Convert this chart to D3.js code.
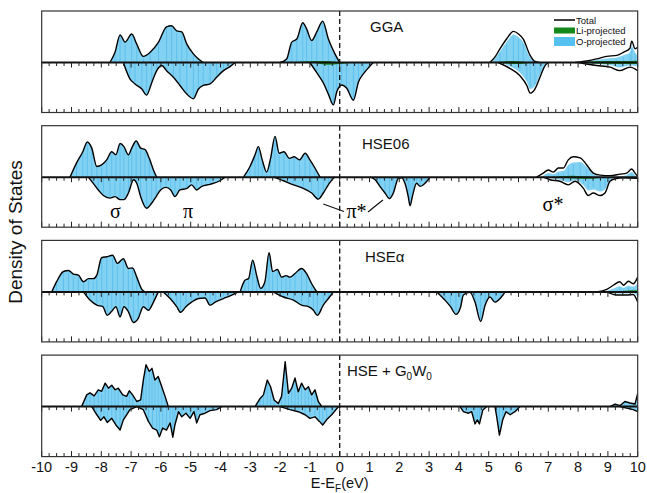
<!DOCTYPE html>
<html>
<head>
<meta charset="utf-8">
<script src="https://cdn.jsdelivr.net/npm/d3@7"></script>
<style>
  body { margin: 0; background: #fff; }
  svg { display: block; }
  text { font-family: "Liberation Sans", Arial, Helvetica, sans-serif; }
  .greek { font-family: "Liberation Serif", "Times New Roman", serif; }
</style>
</head>
<body>
<svg id="chart" width="647" height="493"></svg>
<script>
// Energies in eV relative to E_F; DOS in states/eV (spin up > 0, spin down < 0).
// Each series is a list of blocks; every block starts and ends on the zero line.

const energyTicks = d3.range(-10, 11, 1);
const panelLabels = ["GGA", "HSE06", "HSEα", "HSE + G0W0"];
const legendLabels = ["Total", "Li-projected", "O-projected"];
const bandLabels = ["σ", "π", "π*", "σ*"];

// ---------- GGA ----------
const ggaUp = [
  [[-7.71,0],[-7.54,1.0],[-7.37,2.7],[-7.2,2.0],[-6.98,2.8],[-6.81,1.8],[-6.59,0.6],[-6.36,1.0],[-6.08,2.0],[-5.81,3.5],[-5.64,3.6],[-5.47,3.1],[-5.3,3.0],[-5.13,1.8],[-4.91,0.85],[-4.74,0.35],[-4.58,0]],
  [[-2.0,0],[-1.78,0.35],[-1.61,2.0],[-1.44,2.3],[-1.24,3.9],[-1.11,3.3],[-0.94,2.15],[-0.77,3.0],[-0.57,4.05],[-0.38,2.3],[-0.16,0.85],[0.0,0]]
];
const ggaDown = [
  [[-7.26,0],[-7.04,-1.6],[-6.87,-2.1],[-6.64,-2.6],[-6.48,-3.2],[-6.31,-2.0],[-6.14,-0.8],[-5.97,-0.3],[-5.81,-0.8],[-5.58,-1.45],[-5.36,-2.25],[-5.13,-3.1],[-4.91,-3.55],[-4.74,-2.6],[-4.58,-2.25],[-4.35,-2.1],[-4.13,-1.45],[-3.9,-0.8],[-3.68,-0.4],[-3.51,0]],
  [[-1.0,0],[-0.77,-1.0],[-0.55,-2.0],[-0.38,-3.1],[-0.21,-4.15],[-0.1,-2.9],[0.07,-2.2],[0.23,-2.5],[0.46,-3.7],[0.63,-1.9],[0.8,-1.1],[1.0,-0.4],[1.13,0]]
];
// blocks where the O-projected DOS sits visibly below the total
const ggaTotalOnlyUp = [
  [[5.04,0],[5.2,0.5],[5.38,1.35],[5.6,2.3],[5.83,3.05],[6.0,2.8],[6.16,2.3],[6.39,0.7],[6.55,0.1],[6.7,0]],
  [[7.9,0],[8.07,0.05],[8.29,0.15],[8.62,0.35],[8.96,0.6],[9.3,0.7],[9.52,1.0],[9.74,1.4],[9.8,2.1],[9.91,1.35],[10,1.5]]
];
const ggaOUp = [
  [[5.1,0],[5.38,1.1],[5.6,2.0],[5.83,2.75],[6.0,2.5],[6.16,2.0],[6.39,0.5],[6.6,0]],
  [[8.07,0],[8.29,0.1],[8.62,0.25],[8.96,0.4],[9.3,0.5],[9.52,0.7],[9.74,1.0],[9.8,1.6],[9.91,1.0],[10,0.6]]
];
const ggaTotalOnlyDown = [
  [[5.32,0],[5.72,-0.6],[6.05,-1.3],[6.28,-2.25],[6.39,-3.0],[6.55,-2.6],[6.72,-1.45],[6.89,-0.3],[7.0,0]],
  [[8.0,0],[8.18,-0.1],[8.62,-0.3],[9.07,-0.45],[9.4,-0.8],[9.74,-0.45],[10,-0.8]]
];
const ggaODown = [
  [[5.4,0],[5.72,-0.4],[6.05,-1.0],[6.28,-1.9],[6.39,-2.6],[6.55,-2.3],[6.72,-1.2],[6.89,-0.2],[7.0,0]],
  [[8.18,0],[8.62,-0.15],[9.07,-0.25],[9.4,-0.5],[9.74,-0.3],[10,-0.4]]
];
const ggaLiUp = [
  [[-1.9,0],[-1.2,0.1],[-0.5,0.14],[0,0]],
  [[5.2,0],[5.8,0.15],[6.4,0]],
  [[7.8,0],[8.6,0.12],[9.4,0.15],[10,0.18]]
];
const ggaLiDown = [
  [[-0.9,0],[-0.4,-0.22],[0,-0.15],[0.5,0]],
  [[5.3,0],[5.9,-0.15],[6.5,0]],
  [[7.9,0],[8.8,-0.12],[10,-0.15]]
];

// ---------- HSE06 ----------
const hse06Up = [
  [[-9.05,0],[-8.83,1.4],[-8.62,2.5],[-8.47,3.45],[-8.32,2.85],[-8.15,1.05],[-7.99,1.2],[-7.82,1.7],[-7.65,2.5],[-7.51,2.2],[-7.37,3.3],[-7.24,3.0],[-7.09,2.2],[-6.98,2.85],[-6.83,3.55],[-6.68,2.85],[-6.53,2.7],[-6.39,1.85],[-6.23,0.55],[-6.14,0]],
  [[-3.23,0],[-3.01,1.05],[-2.84,2.2],[-2.73,3.0],[-2.6,1.7],[-2.45,0.5],[-2.32,1.85],[-2.17,4.0],[-2.03,2.35],[-1.87,2.5],[-1.69,1.85],[-1.53,2.0],[-1.35,1.7],[-1.16,2.35],[-1.0,1.7],[-0.83,0.9],[-0.66,0]]
];
const hse06Down = [
  [[-8.43,0],[-8.27,-0.6],[-8.1,-1.25],[-7.93,-1.8],[-7.71,-2.05],[-7.54,-1.9],[-7.37,-2.2],[-7.24,-2.2],[-7.09,-1.55],[-6.92,-0.25],[-6.81,-0.6],[-6.68,-1.9],[-6.48,-3.05],[-6.31,-2.55],[-6.16,-1.9],[-6.01,-1.25],[-5.83,-1.0],[-5.67,-1.25],[-5.53,-1.9],[-5.36,-1.25],[-5.13,-1.1],[-4.97,-0.75],[-4.8,-1.25],[-4.63,-0.9],[-4.35,-0.7],[-4.02,-0.35],[-3.85,0]],
  [[-2.22,0],[-1.89,-0.35],[-1.55,-0.75],[-1.22,-1.1],[-0.94,-1.55],[-0.72,-2.15],[-0.55,-1.55],[-0.38,-0.75],[-0.21,-0.1],[-0.16,0]],
  [[1.02,0],[1.19,-0.25],[1.35,-0.9],[1.52,-1.55],[1.67,-2.1],[1.8,-1.55],[1.97,-0.1],[2.08,-0.05],[2.19,-0.6],[2.3,-1.9],[2.36,-2.8],[2.45,-1.75],[2.58,-0.6],[2.7,-0.9],[2.86,-0.6],[3.03,0]]
];
const hse06TotalOnlyUp = [
  [[6.61,0],[6.83,0.4],[7.0,0.7],[7.17,0.5],[7.34,0.9],[7.5,0.9],[7.67,1.7],[7.84,2.0],[8.07,1.9],[8.29,1.2],[8.51,0.4],[8.74,0.2],[9.07,0.15],[9.41,0.3],[9.63,0.4],[9.8,0.8],[9.91,0.4],[10,0.1]]
];
const hse06OUp = [
  [[6.7,0],[6.83,0.15],[7.0,0.4],[7.17,0.3],[7.34,0.55],[7.5,0.6],[7.67,1.2],[7.84,1.45],[8.07,1.5],[8.29,1.0],[8.51,0.3],[8.74,0.1],[9.07,0.05],[9.41,0.1],[9.63,0.2],[9.8,0.5],[9.91,0.2],[10,0.05]]
];
const hse06TotalOnlyDown = [
  [[6.83,0],[7.06,-0.25],[7.39,-0.4],[7.67,-0.75],[7.9,-0.4],[8.18,-1.1],[8.34,-1.8],[8.51,-1.55],[8.74,-1.8],[8.9,-1.55],[9.07,-0.4],[9.24,-0.15],[9.52,-0.05],[10,-0.1]]
];
const hse06ODown = [
  [[6.9,0],[7.06,-0.1],[7.39,-0.25],[7.67,-0.5],[7.9,-0.3],[8.18,-0.8],[8.34,-1.3],[8.51,-1.2],[8.74,-1.4],[8.9,-1.2],[9.07,-0.3],[9.24,-0.05],[9.4,0]]
];
const hse06LiUp = [[[7.0,0],[7.8,0.15],[8.6,0]]];
const hse06LiDown = [[[7.2,0],[8.3,-0.15],[9.0,0]]];

// ---------- HSEα ----------
const hseaUp = [
  [[-9.66,0],[-9.5,1.0],[-9.27,2.0],[-9.1,2.1],[-8.94,1.75],[-8.77,1.65],[-8.6,1.0],[-8.43,1.3],[-8.27,1.3],[-8.15,1.65],[-7.99,3.35],[-7.82,3.45],[-7.62,3.6],[-7.46,2.8],[-7.26,3.25],[-7.09,2.3],[-6.95,2.35],[-6.81,1.45],[-6.64,0.25],[-6.53,0]],
  [[-3.34,0],[-3.18,1.15],[-3.06,1.3],[-2.92,3.1],[-2.79,1.65],[-2.65,0.35],[-2.51,1.0],[-2.37,3.85],[-2.25,2.0],[-2.09,2.2],[-1.95,1.45],[-1.8,1.6],[-1.67,1.45],[-1.5,1.8],[-1.28,2.3],[-1.11,1.8],[-0.94,0.8],[-0.77,0]]
];
const hseaDown = [
  [[-8.6,0],[-8.38,-0.8],[-8.15,-1.3],[-7.95,-1.45],[-7.8,-2.3],[-7.65,-1.9],[-7.51,-1.45],[-7.37,-2.45],[-7.24,-1.45],[-7.09,-1.95],[-6.92,-3.0],[-6.76,-2.6],[-6.59,-1.45],[-6.42,-1.8],[-6.25,-1.0],[-6.09,0]],
  [[-5.92,0],[-5.69,-0.65],[-5.47,-1.45],[-5.34,-2.0],[-5.16,-1.45],[-4.97,-1.0],[-4.74,-0.65],[-4.52,-0.6],[-4.35,-1.3],[-4.18,-1.0],[-3.9,-0.65],[-3.68,-0.4],[-3.4,0]],
  [[-2.23,0],[-1.89,-0.5],[-1.55,-0.8],[-1.28,-1.3],[-1.05,-1.45],[-0.88,-1.8],[-0.75,-2.3],[-0.55,-1.3],[-0.38,-0.65],[-0.21,0]],
  [[3.26,0],[3.53,-0.8],[3.72,-1.45],[3.9,-2.2],[4.06,-1.45],[4.15,-0.3],[4.37,-0.05],[4.54,-1.0],[4.73,-2.9],[4.88,-1.3],[5.04,-0.5],[5.21,-1.0],[5.38,-0.65],[5.55,0]]
];
const hseaTotalOnlyUp = [[[8.62,0],[8.96,0.25],[9.18,0.65],[9.4,1.0],[9.52,0.65],[9.69,1.05],[9.85,0.8],[10,1.45]]];
const hseaOUp = [[[8.8,0],[8.96,0.1],[9.18,0.3],[9.4,0.55],[9.52,0.4],[9.69,0.6],[9.85,0.5],[10,0.9]]];
const hseaTotalOnlyDown = [[[8.96,0],[9.29,-0.3],[9.63,-0.3],[9.85,-0.25],[10,-1.0]]];
const hseaODown = [[[9.1,0],[9.29,-0.15],[9.63,-0.15],[9.85,-0.1],[10,-0.5]]];
const hseaLiUp = [[[-1.3,0],[-0.8,0.12],[-0.4,0]], [[9.0,0],[9.6,0.12],[10,0.15]]];
const hseaLiDown = [[[9.2,0],[10,-0.12]]];

// ---------- HSE + G0W0 ----------
const g0w0Up = [
  [[-8.66,0],[-8.49,1.15],[-8.38,1.35],[-8.24,1.05],[-8.1,1.65],[-7.99,1.5],[-7.87,2.3],[-7.76,1.8],[-7.65,2.1],[-7.54,1.65],[-7.43,1.8],[-7.28,1.15],[-7.15,1.0],[-7.06,1.55],[-6.95,1.15],[-6.81,0.5],[-6.68,0.65],[-6.59,2.6],[-6.5,4.1],[-6.39,3.45],[-6.3,3.75],[-6.2,2.6],[-6.09,2.95],[-5.97,1.95],[-5.86,1.0],[-5.75,0]],
  [[-2.84,0],[-2.67,0.8],[-2.56,1.15],[-2.43,2.6],[-2.32,1.95],[-2.2,0.65],[-2.06,0.3],[-1.95,1.0],[-1.83,4.4],[-1.72,1.3],[-1.61,1.8],[-1.5,2.8],[-1.39,1.45],[-1.28,2.3],[-1.16,1.65],[-1.05,1.95],[-0.94,1.15],[-0.83,1.65],[-0.72,0.5],[-0.6,0]],
  [[9.07,0],[9.24,0.25],[9.41,0.1],[9.57,0.5],[9.74,0.35],[9.91,0.25],[10,1.3]]
];
const g0w0Down = [
  [[-8.32,0],[-8.15,-0.8],[-8.02,-1.35],[-7.91,-1.0],[-7.8,-1.55],[-7.65,-1.15],[-7.51,-1.8],[-7.37,-2.3],[-7.26,-1.3],[-7.15,-0.8],[-7.04,-0.3],[-6.81,0],[-6.59,-0.3],[-6.42,-1.45],[-6.28,-2.1],[-6.14,-2.3],[-6.05,-2.95],[-5.94,-2.1],[-5.81,-2.3],[-5.69,-1.6],[-5.6,-3.0],[-5.53,-1.8],[-5.41,-0.5],[-5.3,-1.0],[-5.16,-0.65],[-5.02,-1.15],[-4.89,-0.5],[-4.8,-1.6],[-4.69,-0.8],[-4.52,-0.65],[-4.35,-0.4],[-4.13,-0.3],[-3.96,0]],
  [[-2.0,0],[-1.67,-0.3],[-1.39,-0.5],[-1.16,-0.8],[-1.0,-1.15],[-0.83,-1.0],[-0.68,-1.45],[-0.57,-1.8],[-0.44,-1.3],[-0.27,-0.8],[-0.04,0]],
  [[4.04,0],[4.15,-0.5],[4.32,-0.65],[4.43,-0.5],[4.54,-1.7],[4.62,-1.3],[4.69,-1.7],[4.8,-0.35],[4.93,0]],
  [[5.21,0],[5.27,-1.0],[5.36,-2.8],[5.47,-1.3],[5.58,-0.5],[5.72,-0.8],[5.88,-0.5],[6.05,0]],
  [[9.41,0],[9.63,-0.15],[9.85,-0.3],[10,-0.5]]
];
const g0w0LiUp = [[[-2.2,0],[-1.9,0.12],[-1.6,0]]];
const g0w0LiDown = [];

const panels = [
  { label: panelLabels[0], up: ggaUp, down: ggaDown, tUp: ggaTotalOnlyUp, oUp: ggaOUp, tDown: ggaTotalOnlyDown, oDown: ggaODown, liUp: ggaLiUp, liDown: ggaLiDown, smooth: true },
  { label: panelLabels[1], up: hse06Up, down: hse06Down, tUp: hse06TotalOnlyUp, oUp: hse06OUp, tDown: hse06TotalOnlyDown, oDown: hse06ODown, liUp: hse06LiUp, liDown: hse06LiDown, smooth: true },
  { label: panelLabels[2], up: hseaUp, down: hseaDown, tUp: hseaTotalOnlyUp, oUp: hseaOUp, tDown: hseaTotalOnlyDown, oDown: hseaODown, liUp: hseaLiUp, liDown: hseaLiDown, smooth: true },
  { label: panelLabels[3], up: g0w0Up, down: g0w0Down, tUp: [], oUp: [], tDown: [], oDown: [], liUp: g0w0LiUp, liDown: g0w0LiDown, smooth: false }
];

// ---------- drawing ----------
const svg = d3.select("#chart");
const x = d3.scaleLinear().domain([-10, 10]).range([41.7, 637.7]);
const panelStep = 114.7, panelTop0 = 11, panelH = 101.5, zeroOff = 51.5;
const oColor = "#5ec4ef", liColor = "#14881a";

const defs = svg.append("defs");

panels.forEach((p, i) => {
  const top = panelTop0 + i * panelStep;
  const zeroY = top + zeroOff;
  const y = d3.scaleLinear().domain([0, 5]).range([zeroY, zeroY - 51]);
  const curve = p.smooth ? d3.curveMonotoneX : d3.curveLinear;

  defs.append("clipPath").attr("id", "clip" + i)
    .append("rect").attr("x", x(-10)).attr("y", top).attr("width", x(10) - x(-10)).attr("height", panelH);

  const g = svg.append("g");
  const plot = g.append("g").attr("clip-path", `url(#clip${i})`);

  const area = d3.area().x(d => x(d[0])).y0(y(0)).y1(d => y(d[1])).curve(curve);
  const line = d3.line().x(d => x(d[0])).y(d => y(d[1])).curve(curve);

  const oBlocks = [...p.up, ...p.down, ...p.oUp, ...p.oDown];
  const totalBlocks = [...p.up, ...p.down, ...p.tUp, ...p.tDown];
  const liBlocks = [...p.liUp, ...p.liDown];

  // O-projected fill
  plot.selectAll("path.o").data(oBlocks).join("path")
    .attr("class", "o").attr("d", area)
    .attr("fill", oColor).attr("fill-opacity", 0.78);

  // faint vertical streaks inside the O-projected fill
  plot.selectAll("line.streak").data(oBlocks.flat().filter(d => d[1] !== 0)).join("line")
    .attr("class", "streak")
    .attr("x1", d => x(d[0])).attr("x2", d => x(d[0]))
    .attr("y1", y(0)).attr("y2", d => y(d[1]) + (d[1] > 0 ? 2 : -2))
    .attr("stroke", "#2fa9e4").attr("stroke-width", 0.9).attr("stroke-opacity", 0.45);

  // Li-projected fill
  plot.selectAll("path.li").data(liBlocks).join("path")
    .attr("class", "li").attr("d", area)
    .attr("fill", liColor);

  // total DOS
  plot.selectAll("path.total").data(totalBlocks).join("path")
    .attr("class", "total").attr("d", line)
    .attr("fill", "none").attr("stroke", "#000").attr("stroke-width", 1.4)
    .attr("stroke-linejoin", "round");

  // zero line
  g.append("line").attr("x1", x(-10)).attr("x2", x(10)).attr("y1", zeroY).attr("y2", zeroY)
    .attr("stroke", "#111").attr("stroke-width", 2);

  // ticks: hanging from the zero line and rising from the bottom edge
  const minor = d3.range(-10, 10.001, 0.25);
  const isMajor = v => Math.abs(v - Math.round(v)) < 1e-6;
  g.selectAll("line.tz").data(minor).join("line").attr("class", "tz")
    .attr("x1", d => x(d)).attr("x2", d => x(d))
    .attr("y1", zeroY).attr("y2", d => zeroY + (isMajor(d) ? 5 : 3.5))
    .attr("stroke", "#222").attr("stroke-width", 1);
  g.selectAll("line.tb").data(minor).join("line").attr("class", "tb")
    .attr("x1", d => x(d)).attr("x2", d => x(d))
    .attr("y1", top + panelH).attr("y2", d => top + panelH - (isMajor(d) ? 5.5 : 3.5))
    .attr("stroke", "#222").attr("stroke-width", 1);

  // Fermi level
  g.append("line").attr("x1", x(0)).attr("x2", x(0)).attr("y1", top).attr("y2", top + panelH)
    .attr("stroke", "#111").attr("stroke-width", 1.3).attr("stroke-dasharray", "5,3");

  // frame
  g.append("rect").attr("x", x(-10)).attr("y", top).attr("width", x(10) - x(-10)).attr("height", panelH)
    .attr("fill", "none").attr("stroke", "#333").attr("stroke-width", 1.2);
});

// panel labels
const labelPos = [[370, 31.5], [362, 149], [365, 261.5], [347, 376]];
panels.forEach((p, i) => {
  const t = svg.append("text").attr("x", labelPos[i][0]).attr("y", labelPos[i][1])
    .attr("font-size", 15).attr("fill", "#111");
  if (p.label === "HSE + G0W0") {
    t.append("tspan").text("HSE + G");
    t.append("tspan").text("0").attr("font-size", 10).attr("dy", 4);
    t.append("tspan").text("W").attr("dy", -4);
    t.append("tspan").text("0").attr("font-size", 10).attr("dy", 4);
  } else {
    t.text(p.label);
  }
});

// band annotations in the HSE06 panel
svg.append("text").attr("class", "greek").attr("x", 115.5).attr("y", 217.5)
  .attr("text-anchor", "middle").attr("font-size", 20).text(bandLabels[0]);
svg.append("text").attr("class", "greek").attr("x", 188).attr("y", 217.5)
  .attr("text-anchor", "middle").attr("font-size", 20).text(bandLabels[1]);
svg.append("text").attr("class", "greek").attr("x", 356.5).attr("y", 218)
  .attr("text-anchor", "middle").attr("font-size", 20).text(bandLabels[2]);
svg.append("text").attr("class", "greek").attr("x", 553).attr("y", 211)
  .attr("text-anchor", "middle").attr("font-size", 20).text(bandLabels[3]);
svg.append("line").attr("x1", x(-0.55)).attr("y1", 204).attr("x2", 344).attr("y2", 211.5)
  .attr("stroke", "#111").attr("stroke-width", 1.2);
svg.append("line").attr("x1", 368).attr("y1", 212).attr("x2", x(1.45)).attr("y2", 200)
  .attr("stroke", "#111").attr("stroke-width", 1.2);

// legend
const lg = svg.append("g");
lg.append("line").attr("x1", 554).attr("x2", 575).attr("y1", 20).attr("y2", 20)
  .attr("stroke", "#000").attr("stroke-width", 1.5);
lg.append("rect").attr("x", 554).attr("y", 27.5).attr("width", 21).attr("height", 6).attr("fill", liColor);
lg.append("rect").attr("x", 554).attr("y", 37).attr("width", 21).attr("height", 9).attr("fill", "#55c1f0");
legendLabels.forEach((s, k) => {
  lg.append("text").attr("x", 576).attr("y", [23.5, 34, 44.5][k]).attr("font-size", 9.5)
    .attr("fill", "#111").text(s);
});

// x tick labels under the bottom panel
const bottomY = panelTop0 + 3 * panelStep + panelH;
svg.selectAll("text.xt").data(energyTicks).join("text").attr("class", "xt")
  .attr("x", d => x(d)).attr("y", bottomY + 15.5)
  .attr("text-anchor", "middle").attr("font-size", 14.5).attr("fill", "#111")
  .text(d => d);

// axis titles
const xt = svg.append("text").attr("x", x(0)).attr("y", bottomY + 31)
  .attr("text-anchor", "middle").attr("font-size", 14.5).attr("fill", "#111");
xt.append("tspan").text("E-E");
xt.append("tspan").text("F").attr("font-size", 10).attr("dy", 4);
xt.append("tspan").text("(eV)").attr("dy", -4);

svg.append("text").attr("transform", "translate(22,232) rotate(-90)")
  .attr("text-anchor", "middle").attr("font-size", 19).attr("fill", "#111")
  .text("Density of States");
</script>
</body>
</html>
